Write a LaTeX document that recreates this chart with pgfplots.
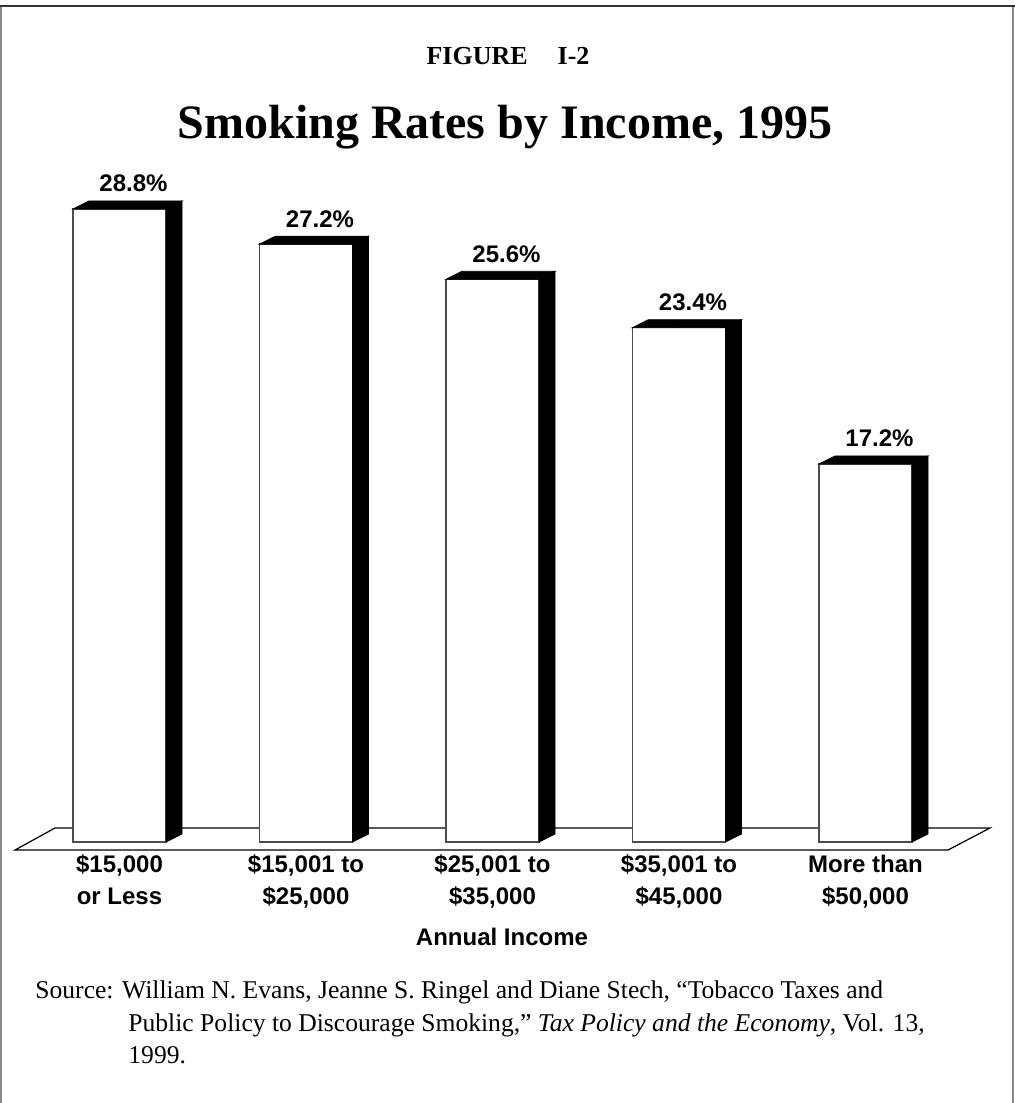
\documentclass[border=0pt]{standalone}
\usepackage{fontspec}
\setmainfont{Liberation Serif}
\newfontfamily\lsans{Liberation Sans}
\usepackage{pgfplots}
\pgfplotsset{compat=1.18}
\newcommand{\lab}{\lsans\bfseries\fontsize{12bp}{16bp}\selectfont}
\begin{document}
\begin{tikzpicture}
\useasboundingbox (0,0) rectangle (507.5bp,-551.5bp);
\fill[white] (0,0) rectangle (507.5bp,-551.5bp);
% frame
\draw[line width=1.2bp, black!45] (0.6bp,-3bp) -- (0.6bp,-551.5bp);
\draw[line width=1.2bp, black!45] (506.6bp,-3bp) -- (506.6bp,-551.5bp);
\draw[line width=1.2bp, black!80] (0,-3bp) -- (507.5bp,-3bp);
% titles
\node[anchor=base, inner sep=0pt, font=\bfseries\fontsize{13bp}{15bp}\selectfont] at (254bp,-32bp) {FIGURE\hspace{15bp}I-2};
\node[anchor=base, inner sep=0pt, font=\bfseries\fontsize{24bp}{28bp}\selectfont] at (252.5bp,-69bp) {Smoking Rates by Income, 1995};
% floor
\filldraw[fill=white, draw=black, line width=0.6bp] (7.5bp,-425bp) -- (27.5bp,-414bp) -- (495bp,-414bp) -- (474bp,-425bp) -- cycle;
\begin{axis}[
  at={(59.75bp,-421bp)}, anchor=origin,
  x=93.25bp, y=10.99bp,
  xmin=-0.6, xmax=4.6, ymin=0, ymax=30,
  clip=false,
  axis line style={draw=none},
  tick style={draw=none},
  ytick=\empty,
  xtick={0,1,2,3,4},
  xticklabels={{\$15,000\\or Less},{\$15,001 to\\\$25,000},{\$25,001 to\\\$35,000},{\$35,001 to\\\$45,000},{More than\\\$50,000}},
  xticklabel style={font=\lab, align=center, anchor=north, inner sep=0pt, yshift=-6.2bp},
]
% 3D depth (side and top faces) drawn from the data values
\addplot[scatter, only marks, mark=*, mark size=0pt, mark options={draw=none, fill=none},
  visualization depends on={rawy \as \barval},
  scatter/@pre marker code/.code={%
    \pgfmathsetmacro{\hh}{\barval*10.99}%
    \fill[black] (23.25bp,0pt) -- (31.25bp,4bp) -- (31.25bp,{(4-\hh)*1bp}) -- (23.25bp,{-\hh*1bp}) -- cycle;
    \fill[black] (-23.25bp,0pt) -- (-15.25bp,4bp) -- (31.25bp,4bp) -- (23.25bp,0pt) -- cycle;
  },
  scatter/@post marker code/.code={}
] coordinates {(0,28.8) (1,27.2) (2,25.6) (3,23.4) (4,17.2)};
% front faces
\addplot[ybar, bar width=46.5bp, bar shift=0pt, fill=white, draw=black!70, line width=0.7bp,
  point meta=explicit symbolic,
  nodes near coords,
  nodes near coords style={font=\lab, anchor=base, inner sep=0pt, xshift=7bp, yshift=8.5bp, text=black}
] coordinates {(0,28.8) [28.8\%] (1,27.2) [27.2\%] (2,25.6) [25.6\%] (3,23.4) [23.4\%] (4,17.2) [17.2\%]};
\end{axis}
\node[anchor=base, inner sep=0pt, font=\lab] at (251bp,-472.5bp) {Annual Income};
% source
\node[anchor=base west, inner sep=0pt, font=\fontsize{12.8bp}{16bp}\selectfont] at (17.5bp,-499bp) {Source: William N. Evans, Jeanne S. Ringel and Diane Stech, “Tobacco Taxes and};
\node[anchor=base west, inner sep=0pt, font=\fontsize{12.8bp}{16bp}\selectfont] at (64bp,-515.5bp) {Public Policy to Discourage Smoking,” \textit{Tax Policy and the Economy}, Vol. 13,};
\node[anchor=base west, inner sep=0pt, font=\fontsize{12.8bp}{16bp}\selectfont] at (64bp,-531.5bp) {1999.};
\end{tikzpicture}
\end{document}
